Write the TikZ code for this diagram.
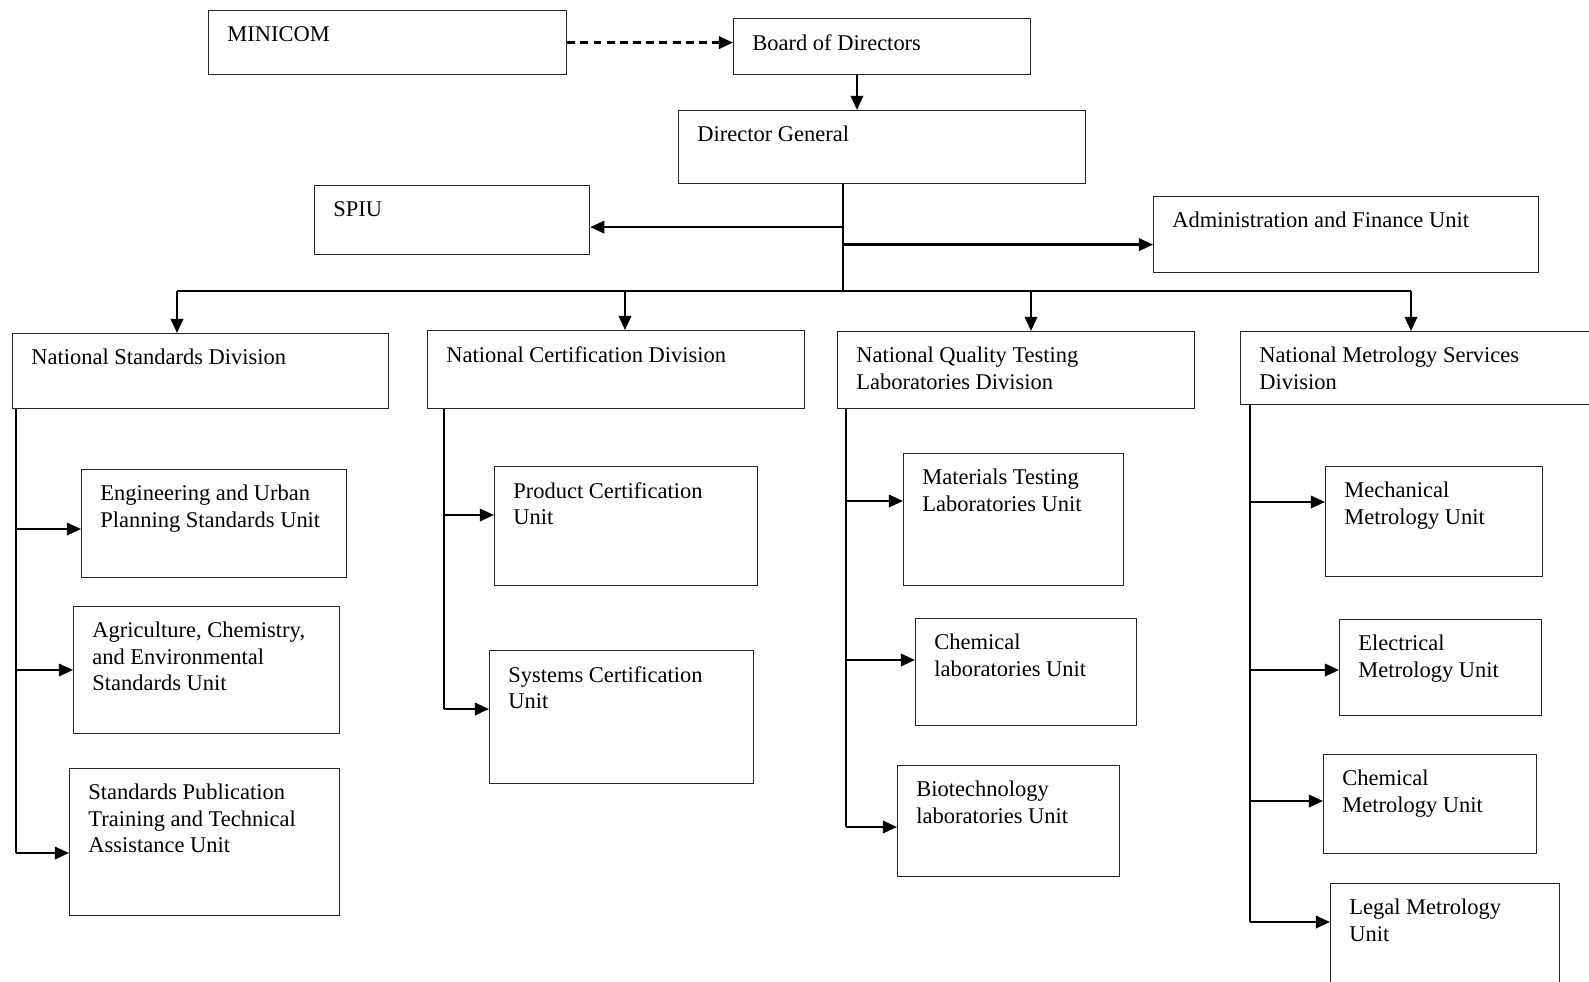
\documentclass[tikz,border=0pt]{standalone}
\usepackage{fontspec}
\setmainfont{Liberation Serif}
\usetikzlibrary{arrows.meta}

% box with its text set at the top left corner
\newcommand{\orgbox}[6]{%
  \node[orgbox, minimum width=#4*0.02cm, minimum height=#5*0.02cm] (#1) at (#2,#3) {};
  \node[boxtext] (#1-t) at ([shift={(19,16)}]#1.north west) {#6};}

\begin{document}
\begin{tikzpicture}[x=0.02cm, y=-0.02cm,
    orgbox/.style={draw=black!85, line width=0.7pt, anchor=north west, inner sep=0pt},
    boxtext/.style={anchor=north west, inner sep=0pt, align=left, font=\fontsize{12.8}{15}\selectfont},
    wire/.style={black, line width=1.4pt},
    thinwire/.style={black, line width=0.9pt},
    arr/.style={wire, -{Triangle[length=8pt, width=7pt]}}]
	\useasboundingbox (0,0) rectangle (1589,981);
	\clip (0,0) rectangle (1589,981);

	% top level
	\orgbox{mini}{208}{10}{358}{64}{MINICOM}
	\orgbox{board}{733}{18}{297}{56}{Board of Directors}
	\orgbox{dg}{678}{110}{407}{73}{Director General}
	\orgbox{spiu}{314}{185}{275}{69}{SPIU}
	\orgbox{admin}{1153}{196}{385}{76}{Administration and Finance Unit}

	% divisions
	\orgbox{nsd}{12}{333}{376}{75}{National Standards Division}
	\orgbox{ncd}{427}{330}{377}{78}{National Certification Division}
	\orgbox{nqt}{837}{331}{357}{77}{National Quality Testing\\Laboratories Division}
	\orgbox{nms}{1240}{331}{380}{73}{National Metrology Services\\Division}

	% units
	\orgbox{eng}{81}{469}{265}{108}{Engineering and Urban\\Planning Standards Unit}
	\orgbox{agr}{73}{606}{266}{127}{Agriculture, Chemistry,\\and Environmental\\Standards Unit}
	\orgbox{pub}{69}{768}{270}{147}{Standards Publication\\Training and Technical\\Assistance Unit}
	\orgbox{prod}{494}{466}{263}{119}{Product Certification\\Unit}
	\orgbox{sys}{489}{650}{264}{133}{Systems Certification\\Unit}
	\orgbox{mat}{903}{453}{220}{132}{Materials Testing\\Laboratories Unit}
	\orgbox{chl}{915}{618}{221}{107}{Chemical\\laboratories Unit}
	\orgbox{bio}{897}{765}{222}{111}{Biotechnology\\laboratories Unit}
	\orgbox{mech}{1325}{466}{217}{110}{Mechanical\\Metrology Unit}
	\orgbox{elec}{1339}{619}{202}{96}{Electrical\\Metrology Unit}
	\orgbox{chm}{1323}{754}{213}{99}{Chemical\\Metrology Unit}
	\orgbox{legal}{1330}{883}{229}{120}{Legal Metrology\\Unit}

	% links at the top
	\draw[arr, dashed, dash pattern=on 4.5pt off 3pt] (mini.east) -- (board.west |- mini.east);
	\coordinate (bd) at (857,0);
	\draw[arr] (board.south -| bd) -- (dg.north -| bd);

	\coordinate (trunk) at (843,291);
	\draw[thinwire] (dg.south -| trunk) -- (trunk);
	\coordinate (spiu-in) at ([shift={(0,7)}]spiu.east);
	\coordinate (admin-in) at ([shift={(0,10)}]admin.west);
	\draw[arr] (trunk |- spiu-in) -- (spiu-in);
	\draw[arr] (trunk |- admin-in) -- (admin-in);

	% bus to the divisions
	\foreach \d/\x in {nsd/177, ncd/625, nqt/1031, nms/1411} {
		\coordinate (top-\d) at (\x,291);
		\draw[arr] (top-\d) -- (top-\d |- \d.north);
	}
	\draw[wire] (top-nsd) -- (top-nms);

	% units of each division
	\coordinate (sp-nsd) at (16,0);
	\foreach \c/\y in {eng/529, agr/670, pub/853}
		\draw[arr] (16,\y) coordinate (in-\c) -- (in-\c -| \c.west);
	\draw[wire] (sp-nsd |- nsd.south) -- (sp-nsd |- in-pub);

	\coordinate (sp-ncd) at (444,0);
	\foreach \c/\y in {prod/515, sys/709}
		\draw[arr] (444,\y) coordinate (in-\c) -- (in-\c -| \c.west);
	\draw[wire] (sp-ncd |- ncd.south) -- (sp-ncd |- in-sys);

	\coordinate (sp-nqt) at (846,0);
	\foreach \c/\y in {mat/501, chl/660, bio/827}
		\draw[arr] (846,\y) coordinate (in-\c) -- (in-\c -| \c.west);
	\draw[wire] (sp-nqt |- nqt.south) -- (sp-nqt |- in-bio);

	\coordinate (sp-nms) at (1250,0);
	\foreach \c/\y in {mech/502, elec/670, chm/801, legal/922}
		\draw[arr] (1250,\y) coordinate (in-\c) -- (in-\c -| \c.west);
	\draw[wire] (sp-nms |- nms.south) -- (sp-nms |- in-legal);

\end{tikzpicture}
\end{document}
